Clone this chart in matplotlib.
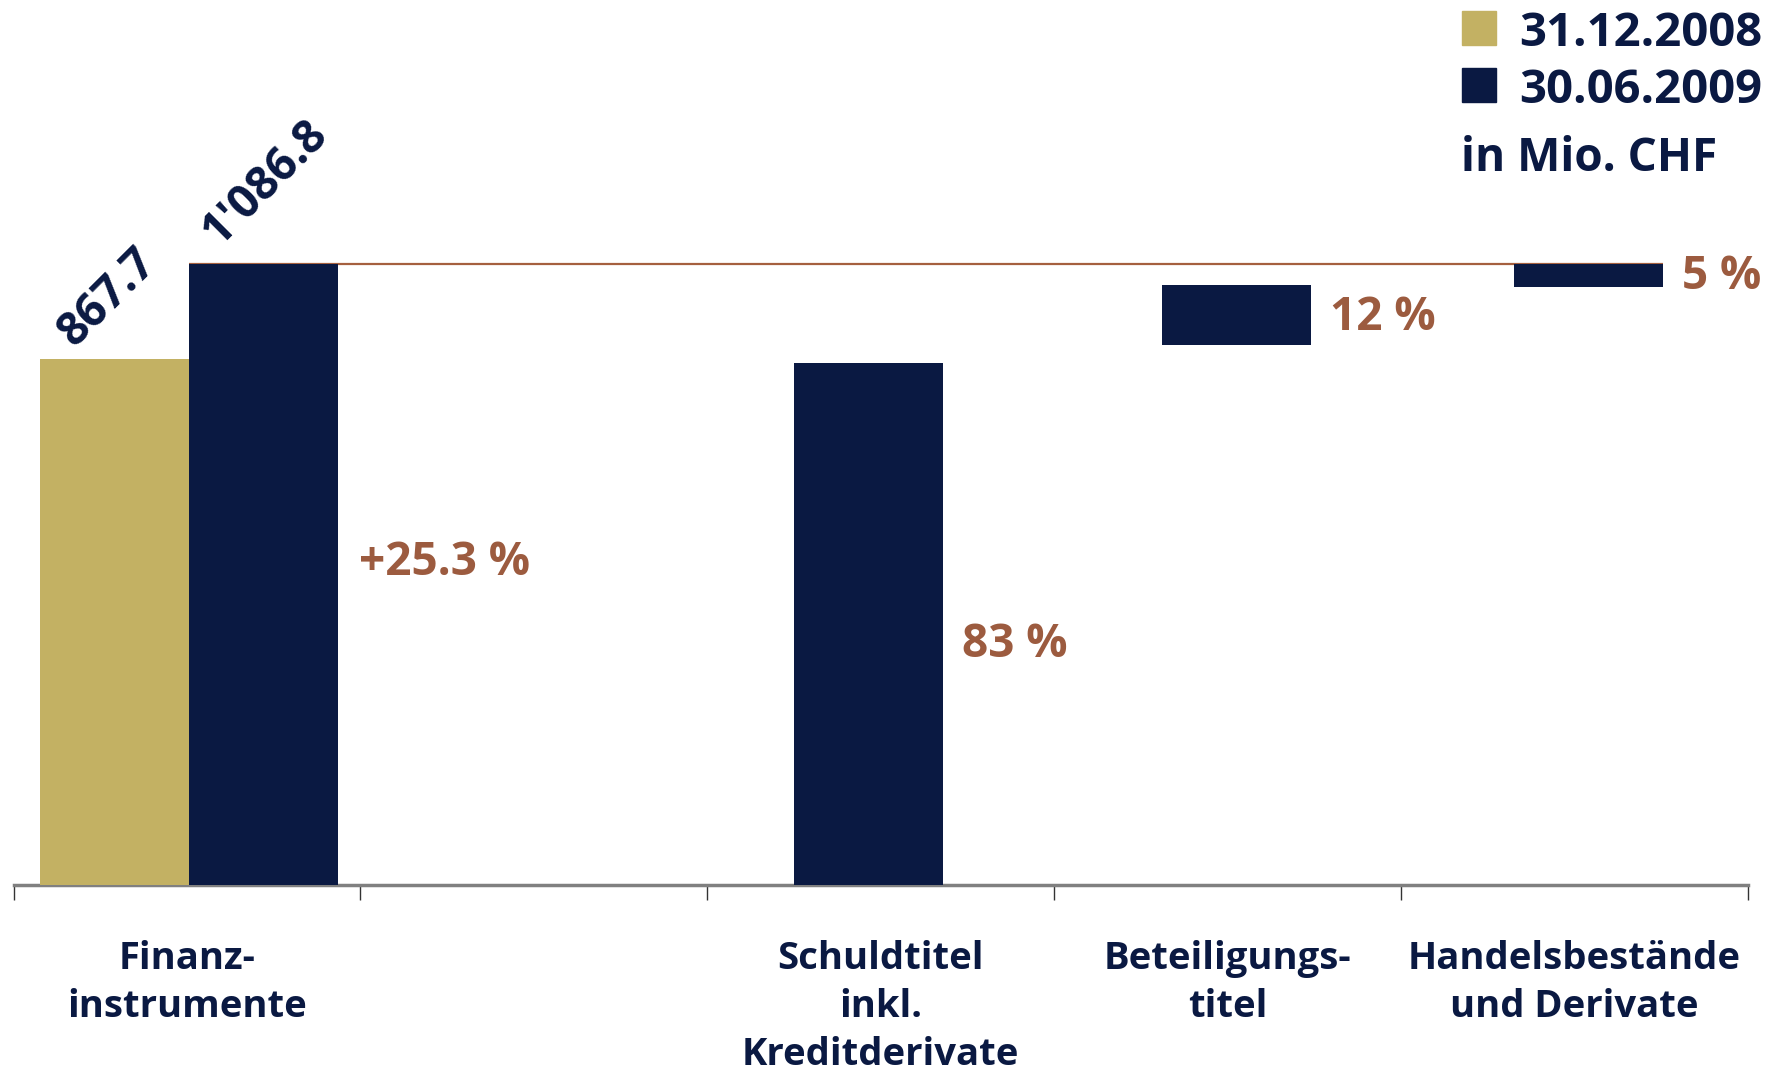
import matplotlib.pyplot as plt
from matplotlib.patches import Rectangle

plt.rcParams["font.family"] = ["Open Sans", "DejaVu Sans"]
plt.rcParams["font.weight"] = "bold"

NAVY = "#0a1942"
GOLD = "#c3b163"
BROWN = "#9c5b3f"

# slots on the x axis (slot 1 is an empty spacer)
CATEGORIES = ["Finanz-\ninstrumente", "", "Schuldtitel\ninkl.\nKreditderivate",
              "Beteiligungs-\ntitel", "Handelsbestände\nund Derivate"]

# drawn heights, as % of the 30.06.2009 total
TOTAL_2008 = 84.7
TOTAL_2009 = 100.0
PART_BOTTOM = [0.0, 86.9, 96.3]
PART_TOP = [84.0, 96.6, 100.0]

VALUE_LABELS = ["867.7", "1'086.8"]
GROWTH_LABEL = "+25.3 %"
SHARE_LABELS = ["83 %", "12 %", "5 %"]
LEGEND_LABELS = ["31.12.2008", "30.06.2009"]
UNIT = "in Mio. CHF"


def main():
    fig = plt.figure(figsize=(17.8, 10.74), dpi=100)
    ax = fig.add_axes([13.6 / 1780, 188.6 / 1074, 1734.4 / 1780, 885.4 / 1074])
    ax.set_xlim(-0.5, 4.5)
    ax.set_ylim(0, 142.4)

    w = 0.43
    x0 = 0.006
    ax.bar(x0 - w / 2, TOTAL_2008, width=w, color=GOLD, zorder=3)
    ax.bar(x0 + w / 2, TOTAL_2009, width=w, color=NAVY, zorder=3)

    part_x = [2 - 0.035, 3 + 0.025, 4 + 0.04]
    heights = [t - b for t, b in zip(PART_TOP, PART_BOTTOM)]
    ax.bar(part_x, heights, bottom=PART_BOTTOM, width=w, color=NAVY, zorder=3)

    # reference line at the total
    ax.hlines(TOTAL_2009, x0, part_x[-1] + w / 2, color="#a5603f", lw=1.6, zorder=2)

    # rotated value labels
    offsets = [(25, 8), (21, 12)]
    for x, top, lab, off in zip([x0 - w, x0], [TOTAL_2008, TOTAL_2009],
                                VALUE_LABELS, offsets):
        ax.annotate(lab, (x, top), xytext=off, textcoords="offset points",
                    rotation=45, rotation_mode="anchor", ha="left", va="baseline",
                    fontsize=33, color=NAVY)

    ax.text(x0 + w + 0.06, 52.0, GROWTH_LABEL, ha="left", va="center",
            fontsize=33, color=BROWN)
    share_y = [38.7, 91.3, 98.0]
    for x, y, lab in zip(part_x, share_y, SHARE_LABELS):
        ax.text(x + w / 2 + 0.055, y, lab, ha="left", va="center",
                fontsize=33, color=BROWN)

    # axes styling
    for s in ["top", "right", "left"]:
        ax.spines[s].set_visible(False)
    ax.spines["bottom"].set_color("#808080")
    ax.spines["bottom"].set_linewidth(2.5)
    ax.set_yticks([])
    ax.set_xticks(range(len(CATEGORIES)))
    ax.set_xticklabels(CATEGORIES, fontsize=27.5, color=NAVY, linespacing=1.35)
    ax.tick_params(axis="x", which="major", length=0, pad=39)
    ax.set_xticks([i - 0.5 for i in range(len(CATEGORIES) + 1)], minor=True)
    ax.tick_params(axis="x", which="minor", length=11, width=1, color="#333333",
                   direction="out")

    # legend, top right (drawn by hand to match the layout)
    W, H = 1780, 1074
    for i, (lab, col) in enumerate(zip(LEGEND_LABELS, [GOLD, NAVY])):
        top = 11 + i * 57
        fig.patches.append(Rectangle((1462 / W, 1 - (top + 34) / H), 34 / W, 34 / H,
                                     transform=fig.transFigure, color=col))
        fig.text(1519 / W, 1 - (top + 35) / H, lab, ha="left", va="baseline",
                 fontsize=34, color=NAVY)
    fig.text(1461 / W, 1 - 171 / H, UNIT, ha="left", va="baseline",
             fontsize=33, color=NAVY)

    fig.savefig("out.png", dpi=100)


if __name__ == "__main__":
    main()
